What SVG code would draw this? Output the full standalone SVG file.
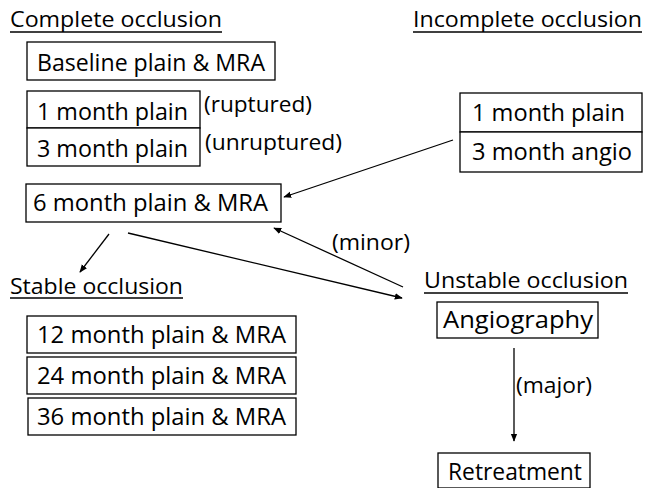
<svg xmlns="http://www.w3.org/2000/svg" width="646" height="488" viewBox="0 0 646 488">
<style>
text{font-family:"Open Sans","Liberation Sans",sans-serif;fill:#000;font-size:24px}
.h{font-size:22px}
.s{font-size:21px}
rect{fill:#fff;stroke:#000;stroke-width:1.3}
.c line{stroke:#000;stroke-width:1.3}
.u{stroke:#000;stroke-width:1.3}
</style>
<defs>
<marker id="ah" viewBox="0 0 10 10" refX="9" refY="5" markerWidth="8" markerHeight="8" markerUnits="userSpaceOnUse" orient="auto">
<path d="M0,1 L10,5 L0,9 z" fill="#000"/>
</marker>
</defs>
<g id="title-complete">
<text class="h" x="10" y="27" textLength="212" lengthAdjust="spacingAndGlyphs">Complete occlusion</text>
<line class="u" x1="10" y1="32" x2="222" y2="32"/>
</g>
<g id="title-incomplete">
<text class="h" x="413" y="27" textLength="229" lengthAdjust="spacingAndGlyphs">Incomplete occlusion</text>
<line class="u" x1="413" y1="32" x2="642" y2="32"/>
</g>
<g id="baseline">
<rect x="27" y="42" width="248" height="38"/>
<text x="37" y="71" textLength="228" lengthAdjust="spacingAndGlyphs">Baseline plain &amp; MRA</text>
</g>
<g id="c1month">
<rect x="27" y="91" width="173" height="37"/>
<text x="37" y="120" textLength="151" lengthAdjust="spacingAndGlyphs">1 month plain</text>
</g>
<g id="c3month">
<rect x="27" y="128" width="173" height="38"/>
<text x="37" y="157" textLength="151" lengthAdjust="spacingAndGlyphs">3 month plain</text>
</g>
<g id="ruptured"><text class="s" x="204" y="112" textLength="108" lengthAdjust="spacingAndGlyphs">(ruptured)</text></g>
<g id="unruptured"><text class="s" x="205" y="150" textLength="137" lengthAdjust="spacingAndGlyphs">(unruptured)</text></g>
<g id="i1month">
<rect x="460" y="93" width="182" height="39"/>
<text x="472" y="121" textLength="153" lengthAdjust="spacingAndGlyphs">1 month plain</text>
</g>
<g id="i3month">
<rect x="460" y="132" width="182" height="40"/>
<text x="472" y="160" textLength="160" lengthAdjust="spacingAndGlyphs">3 month angio</text>
</g>
<g id="m6">
<rect x="26" y="184" width="255" height="38"/>
<text x="33" y="211" textLength="235" lengthAdjust="spacingAndGlyphs">6 month plain &amp; MRA</text>
</g>
<g id="title-stable">
<text class="h" x="10" y="294" textLength="173" lengthAdjust="spacingAndGlyphs">Stable occlusion</text>
<line class="u" x1="10" y1="298" x2="183" y2="298"/>
</g>
<g id="title-unstable">
<text class="h" x="424" y="288" textLength="204" lengthAdjust="spacingAndGlyphs">Unstable occlusion</text>
<line class="u" x1="424" y1="293" x2="628" y2="293"/>
</g>
<g id="minor"><text class="s" x="332" y="250" textLength="78" lengthAdjust="spacingAndGlyphs">(minor)</text></g>
<g id="angiography">
<rect x="437" y="302" width="161" height="36"/>
<text x="443" y="328" textLength="150" lengthAdjust="spacingAndGlyphs">Angiography</text>
</g>
<g id="m12">
<rect x="27" y="316" width="269" height="37"/>
<text x="37" y="343" textLength="249" lengthAdjust="spacingAndGlyphs">12 month plain &amp; MRA</text>
</g>
<g id="m24">
<rect x="27" y="357" width="269" height="37"/>
<text x="37" y="384" textLength="249" lengthAdjust="spacingAndGlyphs">24 month plain &amp; MRA</text>
</g>
<g id="m36">
<rect x="28" y="398" width="268" height="37"/>
<text x="37" y="425" textLength="249" lengthAdjust="spacingAndGlyphs">36 month plain &amp; MRA</text>
</g>
<g id="major"><text class="s" x="516" y="393" textLength="76" lengthAdjust="spacingAndGlyphs">(major)</text></g>
<g id="retreatment">
<rect x="438" y="453" width="152" height="35"/>
<text x="448" y="480" textLength="134" lengthAdjust="spacingAndGlyphs">Retreatment</text>
</g>
<g class="c" id="connectors">
<line x1="453" y1="140" x2="284" y2="197" marker-end="url(#ah)"/>
<line x1="403" y1="287" x2="274" y2="228" marker-end="url(#ah)"/>
<line x1="128" y1="233" x2="402" y2="298" marker-end="url(#ah)"/>
<line x1="109" y1="234" x2="80" y2="272" marker-end="url(#ah)"/>
<line x1="514" y1="348" x2="514" y2="441" marker-end="url(#ah)"/>
</g>
</svg>
